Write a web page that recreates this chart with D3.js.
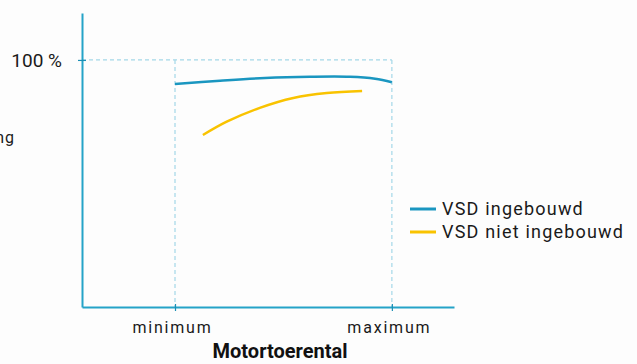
<!DOCTYPE html>
<html><head><meta charset="utf-8">
<script src="https://cdn.jsdelivr.net/npm/d3@7"></script>
<style>
html,body{margin:0;padding:0;background:#fdfdfd;}
svg{display:block;font-family:Roboto,"Liberation Sans",sans-serif;}
</style></head>
<body>
<svg id="c" width="637" height="364"></svg>
<script>
// Data (x: relative motor speed units, y: % )
const xTickValues = [25, 83.3];
const xTickLabels = ["minimum", "maximum"];
const yTickValues = [100];
const yTickLabels = ["100 %"];
const seriesNames = ["VSD ingebouwd", "VSD niet ingebouwd"];
const vsdX = [25, 37.1, 49.2, 61.3, 72, 78.8, 83.3];
const vsdY = [90.3, 91.6, 92.7, 93.2, 93.2, 92.4, 91.0];
const noVsdX = [32.5, 38.9, 47.8, 56.8, 65.8, 75.3];
const noVsdY = [69.6, 75.0, 80.6, 84.6, 86.6, 87.4];
const xTitle = "Motortoerental";
const yTitle = "Energiebesparing";

const colors = ["#1a96c0", "#f9c300"];
const axisColor = "#25a3c8";
const gridColor = "#a4d8e8";

const svg = d3.select("#c");
const x = d3.scaleLinear().domain([0, 100]).range([82, 454]);
const y = d3.scaleLinear().domain([0, 119]).range([307, 13]);

// dashed guides
const g = svg.append("g");
yTickValues.forEach(v => {
  g.append("line").attr("x1", x(0)).attr("x2", x(xTickValues[1])).attr("y1", y(v)).attr("y2", y(v))
    .attr("stroke", gridColor).attr("stroke-width", 1.2).attr("stroke-dasharray", "4,3");
});
xTickValues.forEach(v => {
  g.append("line").attr("x1", x(v)).attr("x2", x(v)).attr("y1", y(yTickValues[0])).attr("y2", y(0))
    .attr("stroke", gridColor).attr("stroke-width", 1.2).attr("stroke-dasharray", "4,3");
});

// axes
const xAxis = d3.axisBottom(x).tickValues(xTickValues).tickSize(0).tickFormat((d,i) => xTickLabels[i]);
const xa = svg.append("g").attr("transform", `translate(0,${y(0)})`).call(xAxis);
xa.select(".domain").attr("stroke", axisColor).attr("stroke-width", 2);
xa.selectAll(".tick line").remove();
xa.selectAll(".tick").append("line").attr("y1", -3).attr("y2", 4).attr("stroke", "#1a8fb5").attr("stroke-width", 1.2);
xa.selectAll(".tick text").attr("y", 26).attr("dy", 0).attr("dx", -3)
  .attr("font-size", 16).attr("fill", "#1a1a1a").attr("letter-spacing", 1.8).attr("font-family", "Roboto");

const yAxis = d3.axisLeft(y).tickValues(yTickValues).tickSize(0).tickFormat((d,i) => yTickLabels[i]);
const ya = svg.append("g").attr("transform", `translate(${x(0)},0)`).call(yAxis);
ya.select(".domain").attr("stroke", axisColor).attr("stroke-width", 2);
ya.selectAll(".tick line").remove();
ya.selectAll(".tick").append("line").attr("x1", -4).attr("x2", 4).attr("stroke", "#1a8fb5").attr("stroke-width", 1.2);
ya.selectAll(".tick text").attr("x", -20).attr("dy", "0.35em")
  .attr("font-size", 19).attr("fill", "#1a1a1a").attr("font-family", "Roboto");

// lines
const line = d3.line().x(d => x(d[0])).y(d => y(d[1])).curve(d3.curveCatmullRom);
const series = [d3.zip(vsdX, vsdY), d3.zip(noVsdX, noVsdY)];
series.forEach((s, i) => {
  svg.append("path").datum(s).attr("d", line).attr("fill", "none")
    .attr("stroke", colors[i]).attr("stroke-width", 2.5).attr("stroke-linecap", "butt");
});

// legend
const lg = svg.append("g").attr("transform", "translate(410,209)");
seriesNames.forEach((n, i) => {
  const r = lg.append("g").attr("transform", `translate(0,${i * 23})`);
  r.append("line").attr("x1", 0).attr("x2", 26).attr("stroke", colors[i]).attr("stroke-width", 3);
  r.append("text").attr("x", 32).attr("dy", "0.36em").attr("font-size", 18)
    .attr("fill", "#1a1a1a").attr("letter-spacing", 1.2).text(n);
});

// titles
svg.append("text").attr("x", 280).attr("y", 358).attr("text-anchor", "middle")
  .attr("font-size", 20).attr("font-weight", "bold").attr("fill", "#111").text(xTitle);
svg.append("text").attr("x", 15).attr("y", 143).attr("text-anchor", "end")
  .attr("font-size", 16).attr("fill", "#1a1a1a").attr("letter-spacing", 1).text(yTitle);
</script>
</body></html>
